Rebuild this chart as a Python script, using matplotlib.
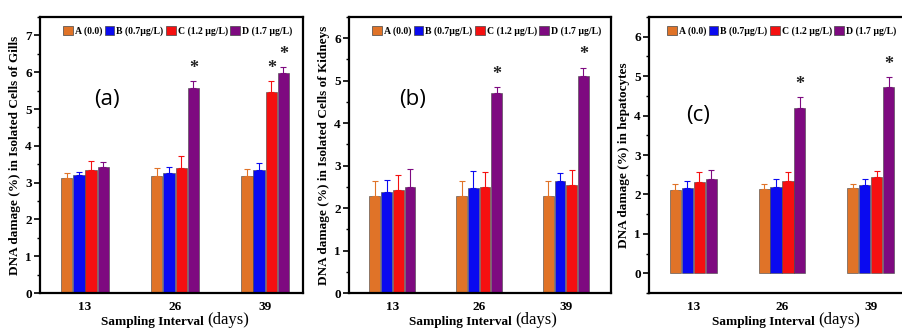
import matplotlib
matplotlib.use("Agg")
import matplotlib.pyplot as plt
from matplotlib.patches import Patch
from matplotlib.ticker import MultipleLocator
import numpy as np

days = ["13", "26", "39"]
groups = ["A (0.0)", "B (0.7μg/L)", "C (1.2 μg/L)", "D (1.7 μg/L)"]
colors = ["#E07328", "#0A0AF0", "#F51010", "#7E0A80"]

# (a) gills: rows = groups A..D, cols = days
gills = [[3.12, 3.17, 3.19],
         [3.20, 3.26, 3.35],
         [3.35, 3.39, 5.45],
         [3.43, 5.58, 5.98]]
gills_err = [[0.15, 0.22, 0.17],
             [0.10, 0.17, 0.17],
             [0.25, 0.32, 0.30],
             [0.14, 0.19, 0.16]]
gills_star = [[0, 0, 0], [0, 0, 0], [0, 0, 1], [0, 1, 1]]

# (b) kidneys
kidney = [[2.29, 2.29, 2.29],
          [2.37, 2.47, 2.64],
          [2.43, 2.49, 2.55],
          [2.50, 4.70, 5.11]]
kidney_err = [[0.35, 0.35, 0.35],
              [0.29, 0.41, 0.18],
              [0.35, 0.37, 0.35],
              [0.42, 0.14, 0.20]]
kidney_star = [[0, 0, 0], [0, 0, 0], [0, 0, 0], [0, 1, 1]]

# (c) hepatocytes
hepato = [[2.12, 2.14, 2.16],
          [2.16, 2.19, 2.23],
          [2.31, 2.34, 2.44],
          [2.40, 4.18, 4.73]]
hepato_err = [[0.14, 0.12, 0.10],
              [0.17, 0.20, 0.17],
              [0.25, 0.23, 0.16],
              [0.21, 0.29, 0.25]]
hepato_star = [[0, 0, 0], [0, 0, 0], [0, 0, 0], [0, 1, 1]]

panels = [
    dict(vals=gills, err=gills_err, star=gills_star, ylim=(0, 7.5),
         ylabel="DNA damage (%) in Isolated Cells of Gills", tag="(a)",
         tagpos=(1.1, 5.25), pos=(40, 303), xlim=(0.5, 3.42), legx=0.07),
    dict(vals=kidney, err=kidney_err, star=kidney_star, ylim=(0, 6.5),
         ylabel="DNA damage (%) in Isolated Cells of Kidneys", tag="(b)",
         tagpos=(1.08, 4.56), pos=(349, 611), xlim=(0.5, 3.52), legx=0.07),
    dict(vals=hepato, err=hepato_err, star=hepato_star, ylim=(-0.5, 6.5),
         ylabel="DNA damage (%) in hepatocytes", tag="(c)",
         tagpos=(0.92, 4.0), pos=(649, 915), xlim=(0.5, 3.5), legx=0.05),
]

W, H = 902, 330
fig = plt.figure(figsize=(W / 100, H / 100), dpi=100)
serif = "Liberation Serif"
top_px, bot_px = 17, 293

width = 0.125
step = 0.135
x = np.arange(1, len(days) + 1)

for p in panels:
    l, r = p["pos"]
    ax = fig.add_axes([l / W, 1 - bot_px / H, (r - l) / W, (bot_px - top_px) / H])
    for i in range(4):
        xs = x + (i - 1.5) * step
        v = np.array(p["vals"][i])
        e = np.array(p["err"][i])
        ax.bar(xs, v, width=width, color=colors[i], edgecolor="#444444",
               linewidth=0.4, zorder=2)
        ax.errorbar(xs, v, yerr=[np.zeros_like(e), e], fmt="none",
                    ecolor=colors[i], elinewidth=0.8, capsize=2, capthick=0.8,
                    zorder=3)
        for j in range(3):
            if p["star"][i][j]:
                ax.text(xs[j], v[j] + e[j] + 0.015 * (p["ylim"][1] - p["ylim"][0]),
                        "*", ha="center", va="bottom", fontsize=13,
                        fontweight="bold", family=serif, color="#222222")
    ax.set_xlim(*p["xlim"])
    ax.set_ylim(*p["ylim"])
    ax.set_xticks(x)
    ax.set_xticklabels(days, family=serif, fontweight="bold", fontsize=9.5)
    ax.tick_params(axis="x", length=0, pad=6)
    ax.yaxis.set_major_locator(MultipleLocator(1))
    ax.yaxis.set_minor_locator(MultipleLocator(0.5))
    ax.tick_params(axis="y", which="major", length=4, width=1.2, direction="out",
                   labelsize=9.5, pad=2)
    ax.tick_params(axis="y", which="minor", length=2, width=1.0, direction="out")
    for lab in ax.get_yticklabels():
        lab.set_family(serif)
        lab.set_fontweight("bold")
    for s in ax.spines.values():
        s.set_linewidth(1.6)
    ax.set_ylabel(p["ylabel"], family=serif, fontweight="bold", fontsize=9.5,
                  labelpad=3)
    ax.text(*p["tagpos"], p["tag"], fontsize=16, family="Open Sans",
            ha="left", va="center")
    handles = [Patch(facecolor=c, edgecolor="#444444", linewidth=0.5) for c in colors]
    ax.legend(handles, groups, loc="upper left", ncol=4, frameon=False,
              bbox_to_anchor=(p["legx"], 0.985), handlelength=1.0,
              handleheight=1.1, handletextpad=0.2, columnspacing=0.25,
              borderaxespad=0.3, borderpad=0.2,
              prop=dict(family=serif, weight="bold", size=7.0))
    # x label: bold part + normal "(days)"
    ax.text(0.635, -0.085, "Sampling Interval ", transform=ax.transAxes,
            ha="right", va="top", family=serif, fontweight="bold", fontsize=9.5)
    ax.text(0.635, -0.07, "(days)", transform=ax.transAxes,
            ha="left", va="top", family=serif, fontsize=12)

fig.savefig("out.png", dpi=100)
